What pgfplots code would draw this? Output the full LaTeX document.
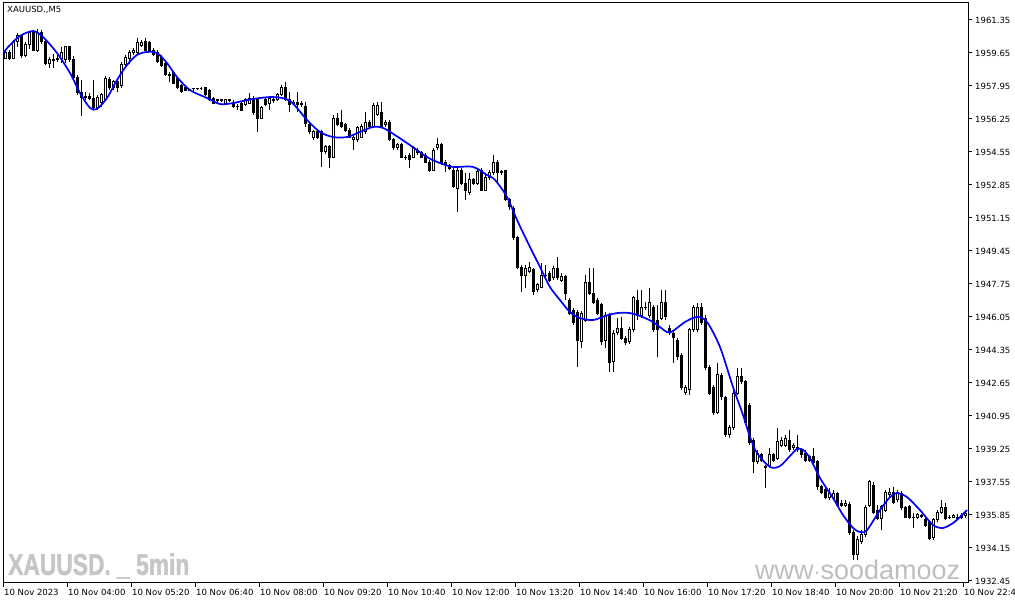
\documentclass[border=0pt]{standalone}
\usepackage{pgfplots}
\pgfplotsset{compat=1.18}
\usepackage{pgfplotstable}
\usepackage{fontspec}
\setmainfont{DejaVu Sans}
\newfontfamily\wmfont[FakeStretch=0.76, FakeBold=1.5]{Liberation Sans Bold}
\newfontfamily\urlfont{Liberation Sans}
\definecolor{wm}{RGB}{198,198,198}
\definecolor{wmurl}{RGB}{190,190,190}
\definecolor{ma}{RGB}{0,0,255}

% XAUUSD M5 candles: index, open, high, low, close
\pgfplotstableread{
i o h l c
0 1959.39 1959.86 1959.34 1959.70
1 1959.70 1959.80 1959.29 1959.39
2 1959.39 1960.32 1959.34 1960.22
3 1960.22 1960.68 1959.96 1960.53
4 1960.53 1960.58 1959.39 1959.50
5 1959.50 1960.22 1959.44 1960.11
6 1960.11 1960.78 1959.86 1960.68
7 1960.68 1960.83 1959.75 1959.80
8 1959.80 1960.89 1959.70 1960.73
9 1960.73 1960.83 1960.11 1960.22
10 1960.22 1960.32 1959.03 1959.13
11 1959.13 1959.44 1958.88 1959.29
12 1959.29 1959.60 1958.88 1959.27
13 1959.29 1959.55 1959.19 1959.39
14 1959.39 1959.96 1959.13 1959.70
15 1959.29 1960.01 1959.13 1959.96
16 1959.96 1960.01 1959.19 1959.29
17 1959.29 1959.50 1958.31 1958.41
18 1958.41 1958.52 1957.49 1957.59
19 1957.59 1958.26 1956.40 1957.38
20 1957.38 1957.64 1957.23 1957.43
21 1957.43 1957.59 1957.23 1957.33
22 1957.33 1958.26 1956.71 1956.82
23 1956.82 1957.49 1956.71 1957.38
24 1957.12 1957.59 1956.87 1957.49
25 1957.23 1958.47 1957.18 1958.36
26 1958.26 1958.41 1957.74 1957.85
27 1957.85 1958.26 1957.74 1958.16
28 1958.16 1958.26 1957.64 1957.85
29 1958.00 1959.19 1957.85 1959.08
30 1959.08 1959.55 1958.98 1959.44
31 1959.39 1959.80 1959.08 1959.70
32 1959.70 1959.91 1959.55 1959.80
33 1959.65 1960.42 1959.60 1960.17
34 1960.01 1960.32 1959.96 1960.17
35 1960.22 1960.42 1959.75 1959.80
36 1960.17 1960.27 1959.70 1959.80
37 1959.80 1959.91 1959.50 1959.55
38 1959.70 1959.80 1959.13 1959.19
39 1959.44 1959.55 1958.93 1959.03
40 1959.13 1959.19 1958.47 1958.52
41 1958.52 1958.67 1958.16 1958.51
42 1958.67 1958.72 1958.05 1958.10
43 1958.36 1958.41 1957.80 1957.85
44 1958.00 1958.05 1957.59 1957.64
45 1957.89 1957.95 1957.69 1957.74
46 1957.74 1957.80 1957.69 1957.75
47 1957.80 1957.85 1957.69 1957.79
48 1957.80 1957.85 1957.74 1957.79
49 1957.80 1957.90 1957.74 1957.80
50 1957.85 1957.90 1957.43 1957.49
51 1957.74 1957.80 1957.18 1957.23
52 1957.33 1957.38 1957.02 1957.07
53 1957.23 1957.28 1957.07 1957.18
54 1957.23 1957.28 1957.12 1957.18
55 1957.07 1957.28 1957.02 1957.23
56 1957.18 1957.28 1957.12 1957.23
57 1957.12 1957.23 1956.82 1956.87
58 1956.87 1957.02 1956.71 1956.86
59 1957.07 1957.12 1956.66 1956.71
60 1956.97 1957.33 1956.92 1957.23
61 1957.07 1957.59 1957.02 1957.33
62 1957.33 1957.43 1956.46 1956.56
63 1957.23 1957.33 1955.58 1956.30
64 1956.30 1956.92 1956.25 1956.82
65 1957.23 1957.33 1956.92 1956.97
66 1957.07 1957.43 1956.71 1957.33
67 1957.23 1957.43 1957.07 1957.22
68 1957.23 1957.59 1957.18 1957.49
69 1957.49 1958.00 1957.43 1957.85
70 1957.85 1958.16 1957.18 1957.23
71 1957.23 1957.64 1956.61 1956.97
72 1957.12 1957.23 1956.97 1957.07
73 1957.12 1957.64 1956.61 1956.97
74 1957.07 1957.18 1956.87 1956.97
75 1956.87 1957.12 1955.84 1956.04
76 1955.94 1956.09 1955.48 1955.58
77 1955.27 1955.68 1955.17 1955.58
78 1955.58 1955.63 1955.22 1955.32
79 1955.58 1955.68 1953.78 1954.55
80 1954.55 1954.91 1954.45 1954.81
81 1954.81 1954.91 1953.72 1954.29
82 1954.29 1956.46 1954.24 1956.30
83 1956.30 1956.56 1955.89 1955.94
84 1956.09 1956.71 1955.79 1955.84
85 1955.94 1956.04 1955.58 1955.68
86 1955.68 1955.79 1955.27 1955.32
87 1955.17 1955.42 1954.65 1955.32
88 1955.17 1955.89 1955.06 1955.79
89 1955.32 1955.99 1955.27 1955.84
90 1955.58 1956.61 1955.48 1956.09
91 1956.09 1956.20 1955.79 1955.84
92 1955.84 1957.07 1955.79 1956.97
93 1956.46 1957.12 1956.40 1956.97
94 1956.56 1957.12 1955.79 1955.84
95 1955.94 1956.20 1955.84 1956.09
96 1956.09 1956.20 1955.11 1955.17
97 1955.17 1955.27 1954.65 1954.76
98 1954.76 1955.01 1954.65 1954.91
99 1954.91 1955.01 1954.24 1954.29
100 1954.29 1954.39 1954.14 1954.24
101 1954.39 1954.50 1953.72 1954.14
102 1954.29 1954.86 1954.24 1954.76
103 1954.65 1954.76 1954.39 1954.50
104 1954.50 1954.60 1954.24 1954.29
105 1954.39 1954.50 1953.98 1954.03
106 1954.03 1954.14 1953.52 1953.62
107 1953.62 1954.76 1953.57 1954.65
108 1954.76 1955.27 1954.65 1954.91
109 1954.91 1955.01 1953.88 1953.98
110 1954.03 1954.14 1953.52 1953.88
111 1953.83 1953.93 1953.62 1953.72
112 1953.62 1953.72 1952.69 1952.75
113 1952.69 1953.72 1951.46 1953.62
114 1953.62 1953.72 1952.85 1952.95
115 1952.95 1953.47 1952.08 1952.59
116 1952.44 1953.47 1952.33 1953.11
117 1953.11 1953.21 1952.85 1952.95
118 1952.95 1953.72 1952.85 1953.52
119 1953.62 1953.72 1952.54 1952.59
120 1952.59 1953.36 1952.54 1953.26
121 1953.21 1953.62 1953.11 1953.47
122 1953.47 1954.39 1953.36 1954.03
123 1954.03 1954.14 1953.00 1953.47
124 1953.47 1953.62 1953.36 1953.52
125 1953.57 1953.62 1952.02 1952.08
126 1952.08 1952.18 1951.56 1951.72
127 1951.66 1951.77 1950.02 1950.12
128 1950.12 1950.22 1948.52 1948.62
129 1948.62 1948.73 1947.34 1948.21
130 1948.21 1948.73 1947.54 1948.57
131 1948.37 1948.88 1948.32 1948.62
132 1948.47 1948.57 1947.18 1947.34
133 1947.44 1947.80 1947.34 1947.70
134 1947.59 1948.83 1947.54 1948.21
135 1948.21 1948.73 1947.95 1948.20
136 1948.31 1948.42 1947.85 1947.95
137 1948.06 1948.68 1947.95 1948.57
138 1948.57 1949.14 1947.95 1948.06
139 1947.95 1948.32 1947.85 1948.11
140 1948.11 1948.21 1946.92 1947.28
141 1946.92 1947.03 1946.15 1946.25
142 1946.36 1946.51 1945.64 1945.74
143 1946.30 1946.41 1943.47 1944.86
144 1944.76 1946.36 1944.45 1946.25
145 1945.89 1948.21 1945.79 1947.85
146 1947.80 1948.57 1947.18 1947.28
147 1947.28 1948.57 1946.72 1946.82
148 1946.92 1947.03 1946.15 1946.25
149 1946.67 1946.77 1944.61 1944.76
150 1944.86 1946.30 1944.45 1946.15
151 1946.15 1946.25 1943.22 1943.68
152 1943.73 1945.38 1943.22 1945.22
153 1945.27 1946.00 1945.12 1945.43
154 1945.48 1946.05 1944.86 1944.92
155 1944.92 1945.07 1944.61 1944.71
156 1944.76 1945.53 1944.66 1945.38
157 1945.38 1947.13 1945.27 1947.03
158 1946.92 1947.44 1945.89 1946.15
159 1946.15 1947.44 1945.99 1946.56
160 1946.56 1946.82 1946.41 1946.55
161 1946.15 1947.54 1945.99 1946.82
162 1946.56 1946.67 1945.27 1945.38
163 1945.89 1946.67 1943.99 1945.38
164 1945.99 1947.44 1945.89 1946.82
165 1946.82 1947.44 1945.89 1946.05
166 1945.48 1945.64 1945.12 1945.27
167 1945.22 1945.38 1943.68 1944.97
168 1944.86 1944.97 1943.83 1943.99
169 1944.09 1944.19 1942.29 1942.44
170 1942.18 1942.54 1942.03 1942.44
171 1942.29 1945.48 1942.03 1945.38
172 1945.38 1946.67 1945.27 1946.56
173 1945.38 1946.77 1945.27 1946.56
174 1946.56 1946.77 1945.64 1945.79
175 1945.99 1946.15 1943.32 1943.47
176 1943.47 1943.57 1942.03 1942.13
177 1942.44 1942.54 1941.00 1941.15
178 1941.15 1943.68 1941.05 1943.06
179 1943.06 1943.16 1941.77 1941.93
180 1941.88 1941.98 1939.87 1939.97
181 1939.97 1940.48 1939.81 1940.33
182 1940.33 1942.29 1940.23 1942.13
183 1942.13 1943.42 1942.03 1942.96
184 1942.96 1943.42 1942.60 1942.70
185 1942.70 1942.80 1940.48 1940.59
186 1941.51 1941.62 1939.45 1939.56
187 1939.71 1939.81 1938.01 1938.58
188 1938.58 1939.20 1938.47 1939.04
189 1938.94 1939.04 1938.58 1938.68
190 1938.37 1938.42 1937.24 1938.32
191 1938.42 1939.30 1938.32 1938.94
192 1938.94 1939.04 1938.58 1938.68
193 1938.78 1940.33 1938.68 1939.61
194 1939.45 1939.87 1939.35 1939.71
195 1939.45 1939.97 1939.35 1939.81
196 1939.71 1940.23 1939.09 1939.20
197 1939.30 1939.56 1939.20 1939.45
198 1939.35 1939.97 1939.09 1939.20
199 1939.20 1939.30 1938.78 1938.94
200 1939.04 1939.20 1938.58 1938.68
201 1938.84 1938.94 1938.58 1938.68
202 1938.84 1939.30 1938.42 1938.53
203 1938.58 1938.68 1937.14 1937.29
204 1937.29 1937.39 1936.93 1937.03
205 1937.14 1937.24 1936.67 1936.77
206 1936.77 1937.24 1936.62 1936.98
207 1936.72 1937.14 1936.62 1936.98
208 1936.93 1937.03 1936.26 1936.36
209 1936.46 1936.62 1936.26 1936.36
210 1936.36 1936.62 1936.26 1936.46
211 1936.41 1936.51 1934.82 1934.92
212 1934.92 1935.07 1933.53 1933.79
213 1933.79 1934.77 1933.53 1934.56
214 1934.46 1935.07 1934.35 1934.82
215 1934.82 1936.36 1934.71 1936.21
216 1936.36 1937.65 1936.26 1937.55
217 1937.39 1937.55 1935.90 1936.00
218 1936.10 1936.36 1935.59 1935.69
219 1935.69 1936.36 1935.07 1936.26
220 1936.10 1937.14 1936.00 1937.03
221 1936.88 1937.24 1936.77 1937.03
222 1937.03 1937.29 1936.41 1936.51
223 1936.62 1937.14 1936.51 1937.03
224 1936.98 1937.08 1936.10 1936.21
225 1936.21 1936.31 1935.69 1935.74
226 1936.26 1936.36 1935.64 1935.74
227 1935.74 1935.95 1935.18 1935.73
228 1935.74 1935.95 1935.64 1935.85
229 1935.80 1935.90 1935.69 1935.79
230 1935.64 1935.74 1935.23 1935.33
231 1935.49 1935.59 1934.56 1934.66
232 1934.71 1935.69 1934.56 1935.59
233 1935.59 1936.10 1935.49 1936.00
234 1936.00 1936.62 1935.90 1936.21
235 1936.21 1936.46 1935.59 1935.69
236 1935.74 1935.85 1935.64 1935.73
237 1935.74 1935.90 1935.69 1935.80
238 1935.69 1935.90 1935.59 1935.70
239 1935.74 1935.95 1935.64 1935.80
240 1935.80 1936.05 1935.69 1935.95
}\candles

\begin{document}
\begin{tikzpicture}
\begin{axis}[
    name=ax,
    scale only axis,
    width=965pt, height=580pt,
    xmin=-0.5, xmax=240.75,
    ymin=1932.344, ymax=1962.225,
    axis line style={line width=1pt},
    tick style={black, line width=1pt},
    tick align=outside,
    major tick length=4pt,
    xtick pos=left,
    ytick pos=right,
    yticklabel pos=right,
    xtick={-0.5,15.5,31.5,47.5,63.5,79.5,95.5,111.5,127.5,143.5,159.5,175.5,191.5,207.5,223.5,239.5},
    xticklabels={10 Nov 2023,10 Nov 04:00,10 Nov 05:20,10 Nov 06:40,10 Nov 08:00,10 Nov 09:20,10 Nov 10:40,10 Nov 12:00,10 Nov 13:20,10 Nov 14:40,10 Nov 16:00,10 Nov 17:20,10 Nov 18:40,10 Nov 20:00,10 Nov 21:20,10 Nov 22:40},
    ytick={1932.45,1934.15,1935.85,1937.55,1939.25,1940.95,1942.65,1944.35,1946.05,1947.75,1949.45,1951.15,1952.85,1954.55,1956.25,1957.95,1959.65,1961.35},
    yticklabels={1932.45,1934.15,1935.85,1937.55,1939.25,1940.95,1942.65,1944.35,1946.05,1947.75,1949.45,1951.15,1952.85,1954.55,1956.25,1957.95,1959.65,1961.35},
    ticklabel style={font=\fontsize{8.5pt}{9pt}\selectfont, inner sep=0pt},
    xticklabel style={anchor=north west, xshift=1pt, yshift=-2pt},
    yticklabel style={anchor=west, xshift=3pt},
    clip=true,
]
% watermarks
\node[anchor=base west, inner sep=0pt, text=wm, font=\wmfont\fontsize{30pt}{30pt}\selectfont]
  at (axis cs:0.75,1932.76) {XAUUSD.\ \_\ 5min};
\node[anchor=base west, inner sep=0pt, text=wmurl, font=\urlfont\fontsize{27pt}{27pt}\selectfont]
  at (axis cs:187.5,1932.50) {www$\cdot$soodamooz};
\node[anchor=north west, inner sep=0pt, font=\fontsize{8.5pt}{9pt}\selectfont]
  at ([shift={(4pt,-3pt)}]rel axis cs:0,1) {XAUUSD.,M5};

% wicks
\addplot[draw=none, mark=none, forget plot,
  error bars/.cd, y dir=plus, y explicit, error mark=none,
  error bar style={draw=black, line width=1pt, solid}]
  table[x=i, y=l, y error expr=\thisrow{h}-\thisrow{l}] {\candles};
% bodies: invisible base, bull (hollow), bear (filled)
\addplot[ybar, stack plots=y, bar shift=0pt, bar width=2pt, draw=none, fill=none, forget plot]
  table[x=i, y expr={min(\thisrow{o},\thisrow{c})}] {\candles};
\addplot[ybar, stack plots=y, bar shift=0pt, bar width=2pt, draw=black, fill=white, line width=1pt, forget plot]
  table[x=i, y expr={max(\thisrow{c}-\thisrow{o},0)}] {\candles};
\addplot[ybar, stack plots=y, bar shift=0pt, bar width=2pt, draw=black, fill=black, line width=1pt, forget plot]
  table[x=i, y expr={max(\thisrow{o}-\thisrow{c},0)}] {\candles};

% moving average
\addplot[ma, line width=1.7pt, smooth, tension=0.5, mark=none, stack plots=false] coordinates {
(-0.5,1959.65) (1.25,1960.06) (3.75,1960.53) (7,1960.78) (9.5,1960.47) (13,1959.65)
(16.25,1958.62) (18.75,1957.59) (21.25,1956.82) (23,1956.77) (25.5,1957.33) (28,1958.26)
(30.5,1959.03) (33,1959.55) (35.5,1959.70) (38,1959.65) (40.5,1959.13) (43,1958.41)
(46.25,1957.74) (50.5,1957.33) (53.75,1957.02) (57,1957.07) (62,1957.28) (67,1957.38)
(71.25,1957.18) (75.5,1956.20) (78.75,1955.58) (82,1955.32) (85.5,1955.32) (88.75,1955.58)
(92,1955.84) (94.5,1955.79) (97.5,1955.42) (100.5,1955.01) (105.5,1954.29) (108.75,1953.98)
(112,1953.78) (117,1953.78) (120.5,1953.36) (122.5,1953.11) (125.5,1952.23) (128,1951.05)
(131.25,1949.65) (133.75,1948.62) (136.25,1947.59) (138.75,1946.92) (141.25,1946.30) (143.75,1945.99)
(147,1945.89) (150,1946.10) (153,1946.25) (156.25,1946.25) (158.75,1946.10) (162,1945.79)
(165.5,1945.27) (167,1945.33) (170,1945.79) (173,1946.05) (175.5,1945.79) (178.75,1944.50)
(182,1942.44) (184.5,1941.00) (186.25,1939.87) (188,1939.04) (191.25,1938.32) (193.75,1938.37)
(196.25,1938.89) (198,1939.25) (199.5,1939.20) (201.25,1938.78) (203.75,1937.75) (207,1936.72)
(209.5,1935.85) (212,1935.18) (213.75,1934.97) (215.5,1935.07) (218.75,1936.10) (221.25,1936.77)
(223,1936.98) (225.5,1936.77) (228.75,1936.10) (232,1935.33) (234.5,1935.18) (237,1935.43)
(238.75,1935.74) (240.5,1936.10)
};
\end{axis}
\pgfresetboundingbox
\path[use as bounding box] ([shift={(-3pt,-22pt)}]ax.south west) rectangle ([shift={(47pt,3pt)}]ax.north east);
\end{tikzpicture}
\end{document}
